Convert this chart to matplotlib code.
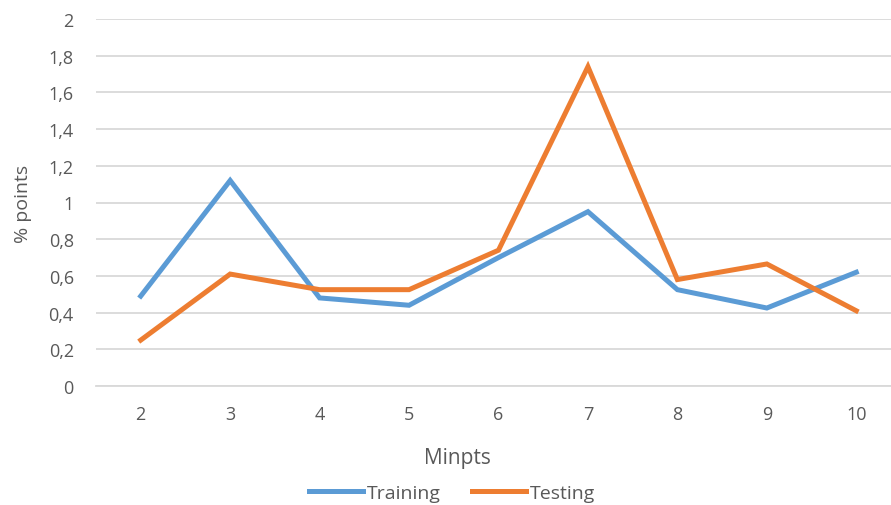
import matplotlib
matplotlib.use("Agg")
import matplotlib.pyplot as plt
import matplotlib.ticker

# minpts values and error rates per run
minpts = [2, 3, 4, 5, 6, 7, 8, 9, 10]
training = [0.49, 1.12, 0.48, 0.44, 0.70, 0.95, 0.525, 0.425, 0.62]
testing = [0.25, 0.61, 0.525, 0.525, 0.74, 1.74, 0.58, 0.665, 0.41]

plt.rcParams['font.family'] = ['Open Sans', 'DejaVu Sans']

fig = plt.figure(figsize=(8.91, 5.06), dpi=100)
ax = fig.add_axes([96 / 891, 119 / 506, 805 / 891, 367 / 506])

xpos = list(range(len(minpts)))
ax.plot(xpos, training, color='#5B9BD5', linewidth=3.6, label='Training', solid_joinstyle='miter')
ax.plot(xpos, testing, color='#ED7D31', linewidth=3.6, label='Testing', solid_joinstyle='miter')

ax.set_xlim(-0.5, len(minpts) - 0.5)
ax.set_ylim(0, 2)
ax.set_xticks(xpos)
ax.set_xticklabels([str(m) for m in minpts])
ax.yaxis.set_major_locator(matplotlib.ticker.MultipleLocator(0.2))
ax.yaxis.set_major_formatter(matplotlib.ticker.FuncFormatter(
    lambda v, p: ('%.1f' % v).rstrip('0').rstrip('.').replace('.', ',')))

ax.grid(axis='y', color='#D9D9D9', linewidth=1.3)
ax.set_axisbelow(True)
for side in ['top', 'right', 'left']:
    ax.spines[side].set_visible(False)
ax.spines['bottom'].set_color('#D9D9D9')
ax.spines['bottom'].set_linewidth(1.3)
ax.tick_params(axis='both', length=0, labelsize=13, colors='#595959')
ax.tick_params(axis='x', pad=14)
ax.tick_params(axis='y', pad=16)

ax.set_xlabel('Minpts', fontsize=15, color='#595959')
ax.xaxis.set_label_coords(0.449, -61 / 367)
ax.set_ylabel('% points', fontsize=14, color='#595959')
ax.yaxis.set_label_coords(-64 / 805, 0.5)

fig.legend(loc='center', bbox_to_anchor=(452 / 891, 1 - 494 / 506), ncol=2, frameon=False,
           fontsize=14, labelcolor='#595959', handlelength=2.8, handletextpad=0.2,
           columnspacing=1.6)

plt.savefig('out.png', dpi=100)
